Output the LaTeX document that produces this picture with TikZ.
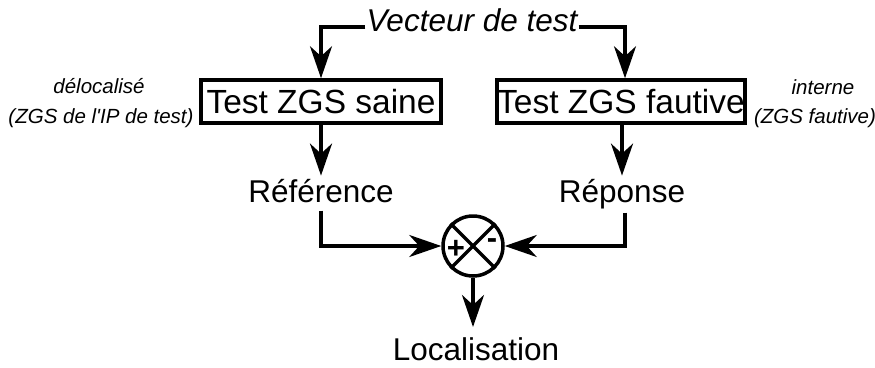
\documentclass[tikz,border=0pt]{standalone}
\usepackage{fontspec}
\setmainfont{Liberation Sans}
\usetikzlibrary{arrows.meta}
\begin{document}
\begin{tikzpicture}[x=1pt,y=-1pt,
  big/.style={font=\fontsize{31.5}{36}\selectfont, inner sep=0pt},
  small/.style={font=\fontsize{20.5}{24}\selectfont\itshape, inner sep=0pt},
  blk/.style={draw, line width=3.5pt, minimum height=43pt, inner sep=0pt, font=\fontsize{33.5}{38}\selectfont},
  conn/.style={line width=3.5pt, -{Stealth[length=32pt, width=22pt, inset=10pt]}},
  plain/.style={line width=3.5pt},
  sign/.style={font=\fontsize{31}{32}\selectfont\bfseries, inner sep=0pt}
]
\useasboundingbox (0,0) rectangle (875,367);
\node[big, font=\fontsize{31.5}{36}\selectfont\itshape, anchor=base] (vec) at (472,31) {Vecteur de test};
\coordinate (vl) at ([xshift=-1pt]vec.west |- 0,27);
\coordinate (vr) at ([xshift=1pt]vec.east |- 0,27);
\node[blk, minimum width=240pt] (saine) at (321,101.5) {Test ZGS saine};
\node[blk, minimum width=244pt] (faut) at (621,101.5) {Test ZGS fautive};
\node[big, anchor=base] (ref) at (321,202) {Référence};
\node[big, anchor=base] (rep) at (622,202) {Réponse};
\node[draw, circle, line width=3.5pt, minimum size=60pt, inner sep=0pt] (sum) at (473,246) {};
\node[big, anchor=base] (loc) at (476,360) {Localisation};
\node[small] (d1) at (99,86) {délocalisé};
\node[small] (d2) at (101,118) {(ZGS de l\textquotesingle IP de test)};
\node[small] (i1) at (823,87) {interne};
\node[small] (i2) at (815,118) {(ZGS fautive)};
\node[sign] (plus) at (456,249) {+};
\node[sign] (minus) at (492,244) {-};
\draw[plain] (sum.north west) -- (sum.south east);
\draw[plain] (sum.north east) -- (sum.south west);
\draw[conn] (vl) -| (saine.north);
\draw[conn] (vr) -| ([xshift=4pt]faut.north);
\draw[conn] (saine.south) -- ([yshift=3pt]saine.south |- ref.north);
\draw[conn] ([xshift=1pt]faut.south) -- ([xshift=1pt,yshift=3pt]faut.south |- rep.north);
\draw[conn] ([yshift=-8pt]ref.south) |- (sum.west);
\draw[conn] ([xshift=3pt,yshift=-4pt]rep.south) |- (sum.east);
\draw[conn] (sum.south) -- ([yshift=10pt]sum.south |- loc.north);
\end{tikzpicture}
\end{document}
